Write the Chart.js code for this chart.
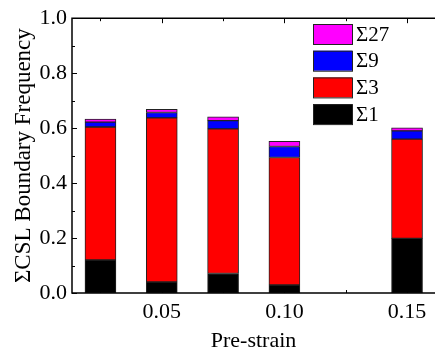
<!DOCTYPE html>
<html>
<head>
<meta charset="utf-8">
<script src="https://cdn.jsdelivr.net/npm/chart.js@4.4.1/dist/chart.umd.min.js"></script>
<style>
  html, body { margin: 0; padding: 0; background: #fff; overflow: hidden; }
  #wrap { width: 435px; height: 356px; }
</style>
</head>
<body>
<div id="wrap"><canvas id="chart"></canvas></div>
<script>
// pre-strain positions of the bars
const strains = [0.025, 0.05, 0.075, 0.10, 0.15];
// CSL fractions, bottom to top of each stack
const sigma1 = [0.120, 0.040, 0.071, 0.029, 0.199];
const sigma3 = [0.484, 0.597, 0.526, 0.464, 0.361];
const sigma9 = [0.018, 0.020, 0.030, 0.040, 0.030];
const sigma27 = [0.011, 0.011, 0.014, 0.019, 0.011];
const seriesNames = ["Σ1", "Σ3", "Σ9", "Σ27"];
const seriesColors = ["#000000", "#ff0000", "#0000ff", "#ff00ff"];
const xTickValues = [0.05, 0.10, 0.15];
const xMinorTicks = [0.025, 0.075, 0.125];
const yTickValues = [0, 0.2, 0.4, 0.6, 0.8, 1.0];
const yMinorTicks = [0.1, 0.3, 0.5, 0.7, 0.9];

const serif = "'Liberation Serif', 'Times New Roman', serif";
const allSeries = [sigma1, sigma3, sigma9, sigma27];

const datasets = allSeries.map((vals, i) => ({
  label: seriesNames[i],
  data: vals.map((v, k) => ({x: strains[k], y: v})),
  backgroundColor: seriesColors[i],
  borderColor: "#222222",
  borderWidth: 1,
  borderSkipped: false,
  barThickness: 31
}));

// axis box + inward ticks
const frame = {
  id: "frame",
  afterDraw(chart) {
    const ctx = chart.ctx;
    const a = chart.chartArea;
    const xs = chart.scales.x, ys = chart.scales.y;
    ctx.save();
    ctx.strokeStyle = "#000";
    ctx.lineWidth = 1.5;
    ctx.beginPath();
    ctx.moveTo(a.right + 2, a.top); ctx.lineTo(a.left, a.top);
    ctx.lineTo(a.left, a.bottom); ctx.lineTo(a.right + 2, a.bottom);
    ctx.stroke();
    ctx.lineWidth = 1;
    ctx.beginPath();
    const tickX = (v, len) => {
      const px = Math.round(xs.getPixelForValue(v)) + 0.5;
      ctx.moveTo(px, a.bottom); ctx.lineTo(px, a.bottom - len);
      ctx.moveTo(px, a.top); ctx.lineTo(px, a.top + len);
    };
    const tickY = (v, len) => {
      const py = Math.round(ys.getPixelForValue(v)) + 0.5;
      ctx.moveTo(a.left, py); ctx.lineTo(a.left + len, py);
    };
    xTickValues.forEach(v => tickX(v, 5));
    xMinorTicks.forEach(v => tickX(v, 3));
    yTickValues.forEach(v => tickY(v, 5));
    yMinorTicks.forEach(v => tickY(v, 3));
    ctx.stroke();
    ctx.restore();
  }
};

// legend inside the plot, top series first
const boxLegend = {
  id: "boxLegend",
  afterDraw(chart) {
    const ctx = chart.ctx;
    ctx.save();
    ctx.font = "21px " + serif;
    ctx.textBaseline = "middle";
    const ds = chart.data.datasets.slice().reverse();
    ds.forEach((d, i) => {
      const y = 24 + i * 26.7;
      ctx.fillStyle = d.backgroundColor;
      ctx.fillRect(313, y, 39, 20);
      ctx.strokeStyle = "#222";
      ctx.lineWidth = 1;
      ctx.strokeRect(313.5, y + 0.5, 39, 20);
      ctx.fillStyle = "#000";
      ctx.fillText(d.label, 356, y + 11);
    });
    ctx.restore();
  }
};

new Chart(document.getElementById("chart"), {
  type: "bar",
  data: {datasets: datasets},
  plugins: [frame, boxLegend],
  options: {
    responsive: true,
    maintainAspectRatio: false,
    animation: false,
    layout: {padding: {top: 16, right: 0, left: 0, bottom: 0}},
    plugins: {legend: {display: false}, tooltip: {enabled: false}},
    scales: {
      x: {
        type: "linear",
        stacked: true,
        offset: false,
        min: 0.0134,
        max: 0.1614,
        grid: {display: false, drawTicks: false},
        border: {display: false},
        afterBuildTicks: s => { s.ticks = xTickValues.map(v => ({value: v})); },
        afterFit: s => { s.height = 63; },
        ticks: {
          padding: 6,
          color: "#000",
          font: {family: serif, size: 22},
          callback: v => v.toFixed(2)
        },
        title: {
          display: true,
          text: "Pre-strain",
          color: "#000",
          font: {family: serif, size: 22},
          padding: {top: 0, bottom: 2}
        }
      },
      y: {
        stacked: true,
        min: 0,
        max: 1,
        grid: {display: false, drawTicks: false},
        border: {display: false},
        afterBuildTicks: s => { s.ticks = yTickValues.map(v => ({value: v})); },
        afterFit: s => { s.width = 72; },
        ticks: {
          padding: 5,
          color: "#000",
          font: {family: serif, size: 22},
          callback: v => v.toFixed(1)
        },
        title: {
          display: true,
          text: "ΣCSL Boundary Frequency",
          color: "#000",
          font: {family: serif, size: 23},
          padding: {top: 10, bottom: 0}
        }
      }
    }
  }
});
</script>
</body>
</html>
